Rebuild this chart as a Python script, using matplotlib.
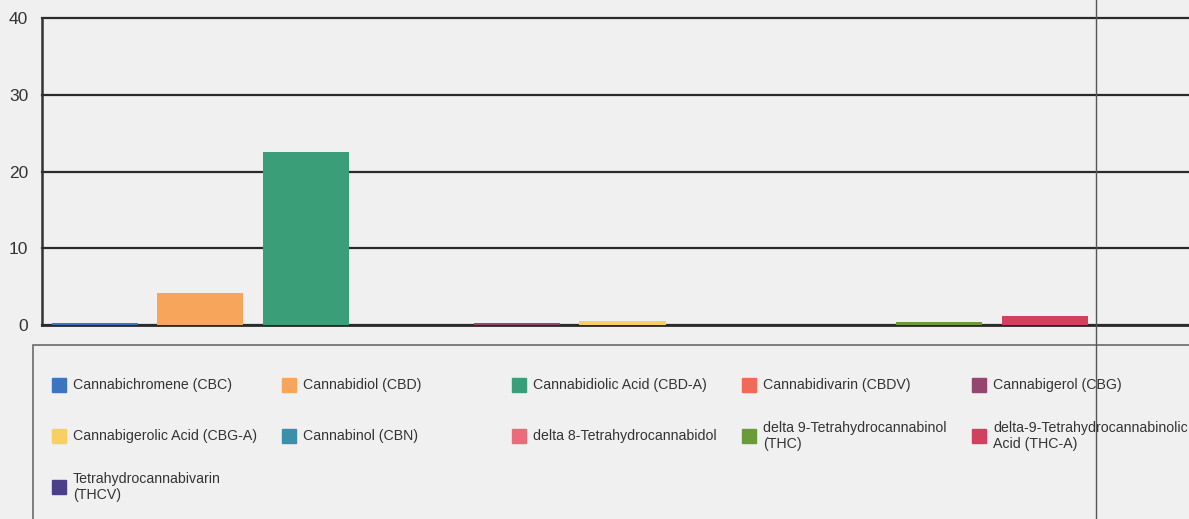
import matplotlib.pyplot as plt
from matplotlib.patches import Rectangle
from matplotlib.lines import Line2D

names = ['Cannabichromene (CBC)', 'Cannabidiol (CBD)', 'Cannabidiolic Acid (CBD-A)',
         'Cannabidivarin (CBDV)', 'Cannabigerol (CBG)', 'Cannabigerolic Acid (CBG-A)',
         'Cannabinol (CBN)', 'delta 8-Tetrahydrocannabidol',
         'delta 9-Tetrahydrocannabinol\n(THC)', 'delta-9-Tetrahydrocannabinolic\nAcid (THC-A)',
         'Tetrahydrocannabivarin\n(THCV)']
values = [0.25, 4.2, 22.5, 0.0, 0.3, 0.55, 0.0, 0.0, 0.45, 1.2, 0.0]
colors = ['#3d74c0', '#f7a55a', '#3a9e78', '#f06b57', '#93466e', '#f8cf62',
          '#3b8fa8', '#ec6b7a', '#6a9a3a', '#d1405f', '#4b3f8c']
yticks = [0, 10, 20, 30, 40]

W, H = 1189, 519
bg = '#f0f0f0'
fig = plt.figure(figsize=(W / 100, H / 100), dpi=100, facecolor=bg)
plt.rcParams['font.family'] = ['Liberation Sans', 'DejaVu Sans']

ax = fig.add_axes([42 / W, 1 - 325 / H, (1203 - 42) / W, (325 - 18) / H])
ax.set_facecolor(bg)
ax.bar(range(len(values)), values, width=0.815, color=colors, zorder=5)
ax.set_xlim(-0.5, len(values) - 0.5)
ax.set_ylim(0, 40)
ax.set_yticks(yticks)
ax.set_xticks([])
ax.yaxis.grid(True, color='#2a2a2a', lw=1.6, zorder=1)
for gl in ax.get_ygridlines():
    gl.set_clip_on(False)
ax.tick_params(axis='y', length=0, pad=10, labelsize=12.5, labelcolor='#333333')
for s in ['top', 'right']:
    ax.spines[s].set_visible(False)
ax.spines['left'].set_color('#333333')
ax.spines['left'].set_linewidth(1.8)
ax.spines['bottom'].set_color('#2a2a2a')
ax.spines['bottom'].set_linewidth(2)
ax.spines['bottom'].set_zorder(4)

# legend box
fig.add_artist(Rectangle((33 / W, -0.05), 1.2, 1 - 345 / H + 0.05,
                         transform=fig.transFigure, fill=False,
                         edgecolor='#6a6a6a', lw=1.2))
for i, (n, c) in enumerate(zip(names, colors)):
    row, col = divmod(i, 5)
    x = 52 + 230 * col
    y = 385 + 51 * row
    fig.add_artist(Rectangle((x / W, 1 - (y + 7) / H), 14 / W, 14 / H,
                             transform=fig.transFigure, color=c))
    fig.text((x + 21) / W, 1 - y / H, n, fontsize=10.2, color='#333333',
             va='center', ha='left', linespacing=1.15)

# fold line on the scanned page
fig.add_artist(Line2D([1096 / W, 1096 / W], [0, 1], transform=fig.transFigure,
                      color='#555555', lw=1))

fig.savefig('out.png', dpi=100, facecolor=bg)
